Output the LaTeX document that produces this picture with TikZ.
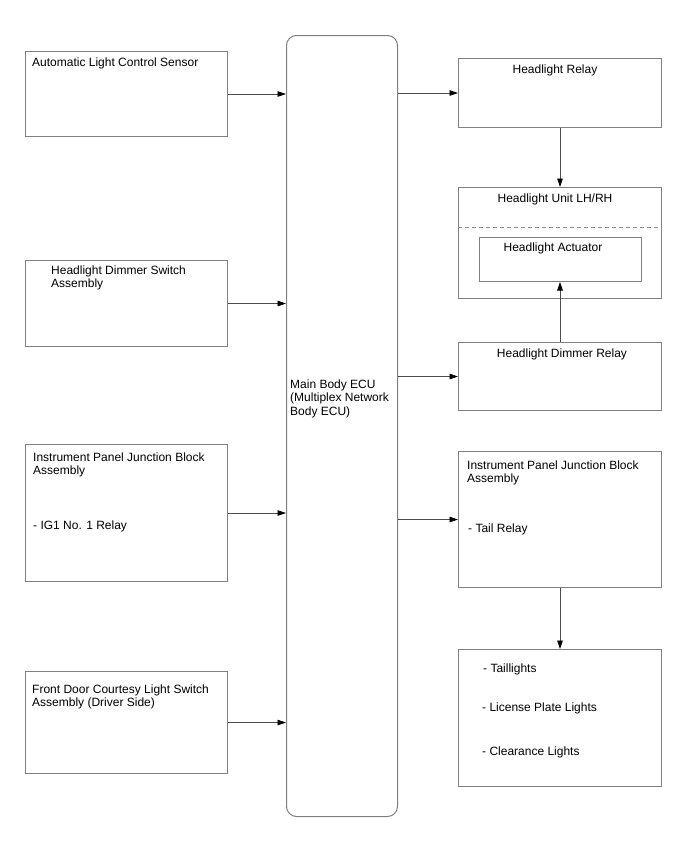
\documentclass[tikz,border=0pt]{standalone}
\usepackage{fontspec}
\setmainfont{Liberation Sans}
\usetikzlibrary{arrows.meta}
\begin{document}
\begin{tikzpicture}[x=1pt,y=-1pt,
  box/.style={draw=black!50, line width=1pt, rectangle, inner sep=0pt, anchor=north west},
  ecubox/.style={box, rounded corners=10pt},
  lbl/.style={inner sep=0pt, font=\fontsize{12}{13.5}\selectfont, align=left, anchor=north west},
  clbl/.style={inner sep=0pt, font=\fontsize{12}{13.5}\selectfont, anchor=base},
  conn/.style={draw=black!70, line width=0.7pt, -{Triangle[length=8.5pt,width=5.5pt,black]}},
  dashline/.style={draw=black!45, line width=1pt, dash pattern=on 4pt off 3pt},
]
\useasboundingbox (0,0) rectangle (688,852);
\fill[white] (0,0) rectangle (688,852);

% left boxes
\node[box, minimum width=202pt, minimum height=85pt]  (b1) at (25,51) {};
\node[box, minimum width=202pt, minimum height=86pt]  (b2) at (25,260) {};
\node[box, minimum width=202pt, minimum height=137pt] (b3) at (25,444) {};
\node[box, minimum width=202pt, minimum height=102pt] (b4) at (25,671) {};

% main ECU
\node[ecubox, minimum width=111pt, minimum height=781pt] (ecu) at (286,35) {};

% right boxes
\node[box, minimum width=203pt, minimum height=69pt]  (relay)  at (458,58) {};
\node[box, minimum width=203pt, minimum height=111pt] (unit)   at (458,187) {};
\node[box, minimum width=162pt, minimum height=44pt]  (act)    at (479,237) {};
\node[box, minimum width=203pt, minimum height=68pt]  (dimmer) at (458,342) {};
\node[box, minimum width=203pt, minimum height=136pt] (ipjb)   at (458,451) {};
\node[box, minimum width=203pt, minimum height=137pt] (lights) at (458,649) {};

% dashed separator in headlight unit
\draw[dashline] ([yshift=-40pt]unit.north west) -- ([yshift=-40pt]unit.north east);

% texts (left)
\node[lbl] (t1)  at (32,57.4)  {Automatic Light Control Sensor};
\node[lbl] (t2)  at (51,265.4) {Headlight Dimmer Switch\\Assembly};
\node[lbl] (t3)  at (33,452.4) {Instrument Panel Junction Block\\Assembly};
\node[lbl] (t3b) at (33,521)   {- IG1 No. 1 Relay};
\node[lbl] (t4)  at (32,684.4) {Front Door Courtesy Light Switch\\Assembly (Driver Side)};

% ECU text
\node[lbl] (tecu) at (290,379.4) {Main Body ECU\\(Multiplex Network\\Body ECU)};

% texts (right)
\node[clbl] (trelay)  at (555,73)  {Headlight Relay};
\node[clbl] (tunit)   at (555,202) {Headlight Unit LH/RH};
\node[clbl] (tact)    at (553,251) {Headlight Actuator};
\node[clbl] (tdimmer) at (562,357) {Headlight Dimmer Relay};
\node[lbl] (tipjb)  at (467,460.4) {Instrument Panel Junction Block\\Assembly};
\node[lbl] (ttail)  at (468,523.4) {- Tail Relay};
\node[lbl] (tl1)    at (483,663.4) {- Taillights};
\node[lbl] (tl2)    at (482,702.4) {- License Plate Lights};
\node[lbl] (tl3)    at (482,746.4) {- Clearance Lights};

% connectors
\draw[conn] (b1.east) -- (b1.east -| ecu.west);
\draw[conn] (b2.east) -- (b2.east -| ecu.west);
\draw[conn] (b3.east) -- (b3.east -| ecu.west);
\draw[conn] (b4.east) -- (b4.east -| ecu.west);
\draw[conn] (ecu.east |- relay.west) -- (relay.west);
\draw[conn] (ecu.east |- dimmer.west) -- (dimmer.west);
\draw[conn] (ecu.east |- ipjb.west) -- (ipjb.west);
\draw[conn] (relay.south) -- (unit.north);
\draw[conn] (dimmer.north) -- (dimmer.north |- act.south);
\draw[conn] (ipjb.south) -- (lights.north);
\end{tikzpicture}
\end{document}
